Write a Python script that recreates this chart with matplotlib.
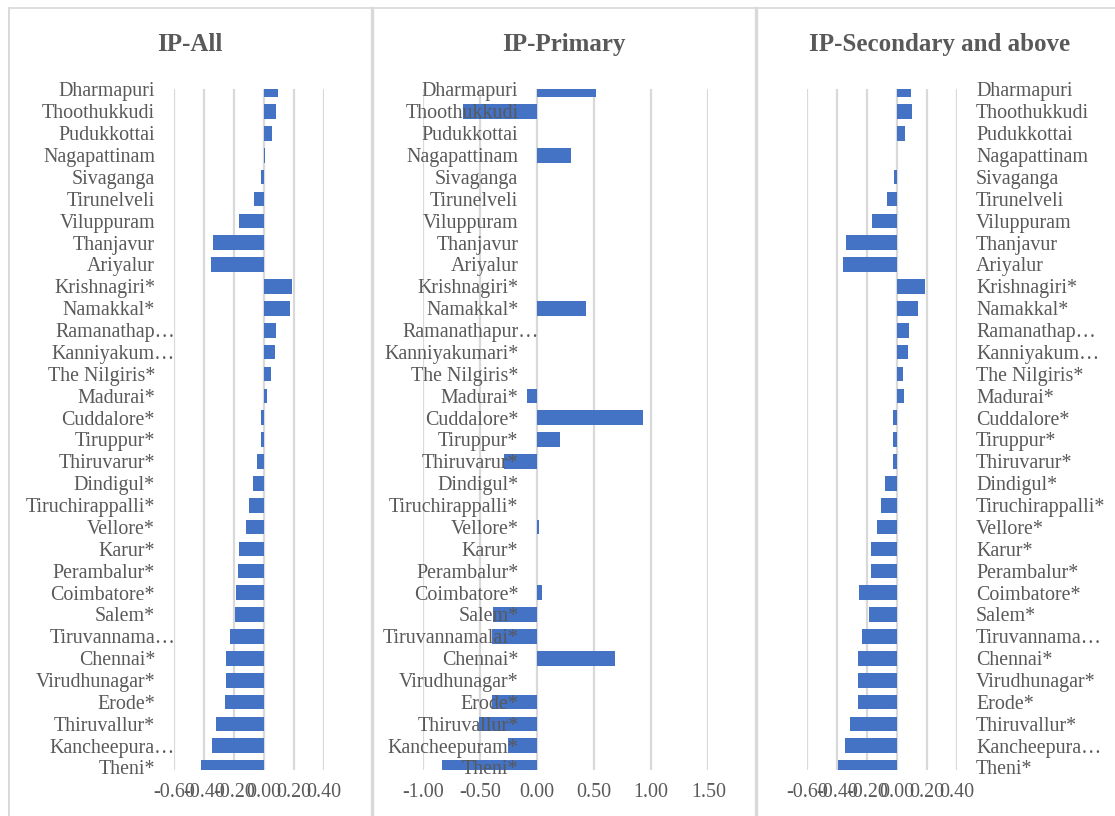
import matplotlib
matplotlib.use("Agg")
import matplotlib.pyplot as plt
from matplotlib.lines import Line2D
from matplotlib.transforms import offset_copy, blended_transform_factory
from matplotlib.font_manager import FontProperties

plt.rcParams["font.family"] = ["Liberation Serif", "DejaVu Serif"]

# ---- data -------------------------------------------------------------
districts = [
    "Dharmapuri", "Thoothukkudi", "Pudukkottai", "Nagapattinam", "Sivaganga",
    "Tirunelveli", "Viluppuram", "Thanjavur", "Ariyalur", "Krishnagiri*",
    "Namakkal*", "Ramanathapuram*", "Kanniyakumari*", "The Nilgiris*",
    "Madurai*", "Cuddalore*", "Tiruppur*", "Thiruvarur*", "Dindigul*",
    "Tiruchirappalli*", "Vellore*", "Karur*", "Perambalur*", "Coimbatore*",
    "Salem*", "Tiruvannamalai*", "Chennai*", "Virudhunagar*", "Erode*",
    "Thiruvallur*", "Kancheepuram*", "Theni*",
]

# shortened category labels shown where the label area is narrow
short_narrow = {
    "Ramanathapuram*": "Ramanathap\u2026",
    "Kanniyakumari*": "Kanniyakum\u2026",
    "Tiruvannamalai*": "Tiruvannama\u2026",
    "Kancheepuram*": "Kancheepura\u2026",
}
short_wide = {
    "Ramanathapuram*": "Ramanathapur\u2026",
}

ip_all = [
    0.095, 0.080, 0.051, 0.006, -0.020, -0.067, -0.167, -0.340, -0.358, 0.187,
    0.171, 0.080, 0.076, 0.044, 0.020, -0.022, -0.022, -0.047, -0.076,
    -0.104, -0.120, -0.169, -0.176, -0.189, -0.193, -0.227, -0.253, -0.256,
    -0.264, -0.322, -0.347, -0.424,
]
ip_primary = [
    0.517, -0.648, 0.0, 0.300, 0.0, 0.0, 0.0, 0.0, 0.0, 0.0,
    0.432, 0.0, 0.0, 0.0, -0.090, 0.928, 0.198, -0.286, 0.0,
    0.0, 0.020, 0.0, 0.0, 0.045, -0.388, -0.397, 0.686, 0.0,
    -0.391, -0.511, -0.257, -0.835,
]
ip_secondary = [
    0.096, 0.104, 0.053, 0.0, -0.018, -0.062, -0.164, -0.338, -0.358, 0.189,
    0.144, 0.082, 0.078, 0.044, 0.049, -0.022, -0.024, -0.024, -0.076,
    -0.104, -0.129, -0.169, -0.173, -0.251, -0.182, -0.229, -0.258, -0.258,
    -0.256, -0.309, -0.344, -0.393,
]

titles = ["IP-All", "IP-Primary", "IP-Secondary and above"]
ticks_small = [-0.6, -0.4, -0.2, 0.0, 0.2, 0.4]
ticks_wide = [-1.0, -0.5, 0.0, 0.5, 1.0, 1.5]

# ---- style ------------------------------------------------------------
W, H = 1115, 816
BAR = "#4472C4"
TXT = "#595959"
GRID = "#d9d9d9"
FS = 14.4          # category / tick label size (pt)
TITLE_FS = 18

fig = plt.figure(figsize=(W / 100, H / 100), dpi=100)
fig.patch.set_facecolor("white")


def axes_px(x0, x1, y0, y1):
    return fig.add_axes([x0 / W, 1 - y1 / H, (x1 - x0) / W, (y1 - y0) / H])


def fy(y):
    return 1 - y / H


# panel frames
frame_kw = dict(color=GRID, transform=fig.transFigure, zorder=0)
fig.add_artist(Line2D([9 / W, 1], [fy(7.5), fy(7.5)], lw=1.2, **frame_kw))
fig.add_artist(Line2D([9 / W, 9 / W], [fy(7.5), 0], lw=1.4, **frame_kw))
fig.add_artist(Line2D([371.7 / W, 371.7 / W], [fy(7.5), 0], lw=2.4, **frame_kw))
fig.add_artist(Line2D([756 / W, 756 / W], [fy(7.5), 0], lw=2.4, **frame_kw))

renderer = fig.canvas.get_renderer()
fp = FontProperties(family=["Liberation Serif", "DejaVu Serif"], size=FS)
ell_w, _, _ = renderer.get_text_width_height_descent("\u2026", fp, ismath=False)

Y_TOP, Y_BOT = 89.0, 769.5
n = len(districts)
ypos = list(range(n))
ylim = (31 + 1.8 / 21.87, -0.6 / 21.87)

panels = [
    dict(vals=ip_all, xr=(174.3, 324.0), xlim=(-0.6, 0.4), ticks=ticks_small,
         mode="low", short=short_narrow, tx=190),
    dict(vals=ip_primary, xr=(422.7, 708.3), xlim=(-1.0, 1.5), ticks=ticks_wide,
         mode="axis", short=short_wide, tx=564),
    dict(vals=ip_secondary, xr=(806.7, 956.7), xlim=(-0.6, 0.4), ticks=ticks_small,
         mode="high", short=short_narrow, tx=940),
]

for title, p in zip(titles, panels):
    ax = axes_px(p["xr"][0], p["xr"][1], Y_TOP, Y_BOT)
    ax.set_facecolor("none")
    ax.barh(ypos, p["vals"], height=0.67, color=BAR, zorder=2)
    ax.set_xlim(*p["xlim"])
    ax.set_ylim(*ylim)
    ax.set_xticks(p["ticks"])
    ax.set_xticklabels([f"{t:.2f}" for t in p["ticks"]])
    ax.set_yticks([])
    ax.tick_params(axis="x", length=0, pad=9.5, labelsize=FS, labelcolor=TXT)
    ax.grid(axis="x", color=GRID, lw=1.6, zorder=1)
    ax.set_axisbelow(True)
    for s in ax.spines.values():
        s.set_visible(False)

    if p["mode"] == "low":
        base = blended_transform_factory(ax.transAxes, ax.transData)
        x0, dx, ha = 0.0, -19.3, "right"
    elif p["mode"] == "axis":
        base = ax.transData
        x0, dx, ha = 0.0, -18.6, "right"
    else:
        base = blended_transform_factory(ax.transAxes, ax.transData)
        x0, dx, ha = 1.0, 19.3, "left"

    for i, name in enumerate(districts):
        label = p["short"].get(name, name)
        shift = dx
        if ha == "right" and label.endswith("\u2026"):
            shift += ell_w
        tr = offset_copy(base, fig=fig, x=shift, y=-6.8, units="dots")
        ax.text(x0, i, label, transform=tr, ha=ha, va="baseline",
                fontsize=FS, color=TXT, clip_on=False, zorder=5)

    fig.text(p["tx"] / W, fy(51), title, ha="center", va="baseline",
             fontsize=TITLE_FS, fontweight="bold", color=TXT)

fig.savefig("out.png", dpi=100, facecolor="white")
